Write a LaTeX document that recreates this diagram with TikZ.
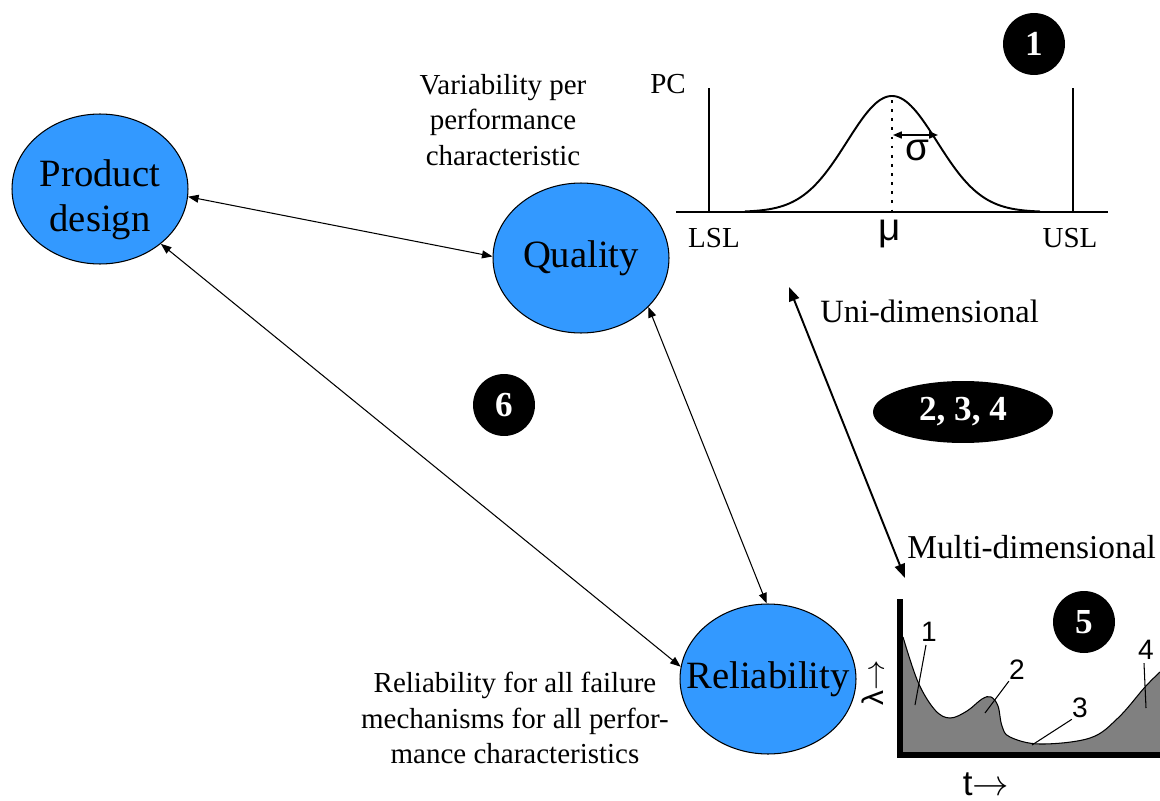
\documentclass[tikz,border=0pt]{standalone}
\usepackage{fontspec}
\setmainfont{Liberation Serif}
\newfontfamily\sansgr{Liberation Sans}
\usetikzlibrary{shapes.geometric,arrows.meta}
\definecolor{bubbleblue}{RGB}{51,153,255}
\definecolor{hazard}{RGB}{128,128,128}

\begin{document}
\begin{tikzpicture}[x=0.02cm,y=-0.02cm,
  bubble/.style={ellipse, draw=black, line width=0.6pt, fill=bubbleblue,
    minimum width=3.52cm, minimum height=3.0cm, inner sep=-20pt, align=center,
    font=\fontsize{22}{25.5}\selectfont},
  bubbletext/.style={align=center, inner sep=0pt, font=\fontsize{22}{25.5}\selectfont},
  badge/.style={circle, fill=black, minimum size=1.24cm, inner sep=0pt,
    text=white, font=\fontsize{20}{24}\selectfont\bfseries},
  note/.style={align=center, font=\fontsize{16.5}{20.2}\selectfont},
  axislabel/.style={font=\fontsize{16.5}{20}\selectfont},
  greek/.style={font=\sansgr\fontsize{22}{26}\selectfont},
  curvelabel/.style={font=\sansgr\fontsize{16}{19}\selectfont, inner sep=0pt},
  link/.style={line width=0.6pt,
    {Triangle[length=6pt,width=4.5pt]}-{Triangle[length=6pt,width=4.5pt]}},
  biglink/.style={line width=1.1pt,
    {Triangle[length=8pt,width=6pt]}-{Triangle[length=8pt,width=6pt]}},
  leader/.style={line width=0.6pt},
]
\useasboundingbox (0,0) rectangle (1160,801);

% the three main ellipses
\node[bubble] (pd) at (100,189) {};
\node[bubbletext] (pdtext) at (100,200) {Product\\design};
\node[bubble] (q)  at (581,258) {Quality};
\node[bubble] (r)  at (768,679) {Reliability};

% connectors between them
\draw[link] (pd.-5) -- (q.179);
\draw[link] (pd.-42) -- (r.172);
\draw[link] (q.-36) -- (r.91);

% annotations
\node[note] (varnote) at (503,120) {Variability per\\performance\\characteristic};
\node[note] (relnote) at (515,718) {Reliability for all failure\\mechanisms for all perfor-\\mance characteristics};

% numbered badges
\node[badge] (b1) at (1034,44) {1};
\node[badge] (b6) at (504,405) {6};
\node[badge] (b5) at (1084,622) {5};
\node[ellipse, fill=black, minimum width=3.6cm, minimum height=1.24cm, inner sep=0pt,
  text=white, font=\fontsize{20}{24}\selectfont\bfseries] (b234) at (963,412) {2, 3, 4};

% normal distribution between specification limits
\draw[line width=1.1pt] (676,212) -- (1108,212);
\draw[line width=0.8pt] (709,88) -- (709,212);
\draw[line width=0.8pt] (1073,88) -- (1073,212);
\draw[line width=1.1pt] plot[domain=745:1040, samples=120]
  (\x, {212-116*exp(-0.5*((\x-892)/45)^2)});
\draw[line width=1.4pt, line cap=butt, dash pattern=on 1.6pt off 3.6pt] (892,100) -- (892,212);
\draw[line width=0.8pt, {Triangle[length=5pt,width=4pt]}-{Triangle[length=5pt,width=4pt]}] (893,135) -- (938,135);
\node[axislabel, anchor=base] (pc)  at (668,93) {PC};
\node[axislabel, anchor=base] (lsl) at (714,247) {LSL};
\node[axislabel, anchor=base] (usl) at (1070,247) {USL};
\node[greek, anchor=base] (mu) at (890,240) {μ};
\node[greek] (sigma) at (917,150) {σ};

% uni- versus multi-dimensional
\coordinate (uniend) at (789,287);
\coordinate (multiend) at (905,578);
\draw[biglink] (uniend) -- (multiend);
\node[anchor=base west, font=\fontsize{18.5}{22}\selectfont, inner sep=0pt] (uni) at (820,322) {Uni-dimensional};
\node[anchor=base west, font=\fontsize{19}{23}\selectfont, inner sep=0pt] (multi) at (907,558) {Multi-dimensional};

% failure-rate curve
\fill[hazard] plot[smooth, tension=0.6] coordinates {(903,637) (918,682) (935,710) (950,718) (967,711) (982,699) (991,697) (998,706) (1002,726) (1010,737) (1040,744) (1090,738) (1118,718) (1145,687) (1160,672)} -- (1160,755) -- (903,755) -- cycle;
\draw[line width=0.6pt] plot[smooth, tension=0.6] coordinates {(903,637) (918,682) (935,710) (950,718) (967,711) (982,699) (991,697) (998,706) (1002,726) (1010,737) (1040,744) (1090,738) (1118,718) (1145,687) (1160,672)};
\draw[line width=3.4pt] (900,599) -- (900,755) -- (1160,755);

\node[curvelabel] (c1) at (929,632) {1};
\node[curvelabel] (c2) at (1017,670) {2};
\node[curvelabel] (c3) at (1080,708) {3};
\node[curvelabel] (c4) at (1146,650) {4};
\coordinate (p1) at (915,705);
\coordinate (p2) at (985,713);
\coordinate (p3) at (1032,745);
\coordinate (p4) at (1146,708);
\draw[leader] (c1.south) ++(-3,3) -- (p1);
\draw[leader] (c2.south west) ++(0,1) -- (p2);
\draw[leader] (c3.south west) ++(0,1) -- (p3);
\draw[leader] (c4.south) ++(-2,3) -- (p4);

\node[font=\sansgr\fontsize{17}{20}\selectfont, rotate=90, inner sep=0pt] (lambda) at (873,683) {λ$\rightarrow$};
\node[font=\sansgr\fontsize{20}{24}\selectfont, inner sep=0pt] (tlab) at (986,784) {t$\rightarrow$};
\end{tikzpicture}
\end{document}
